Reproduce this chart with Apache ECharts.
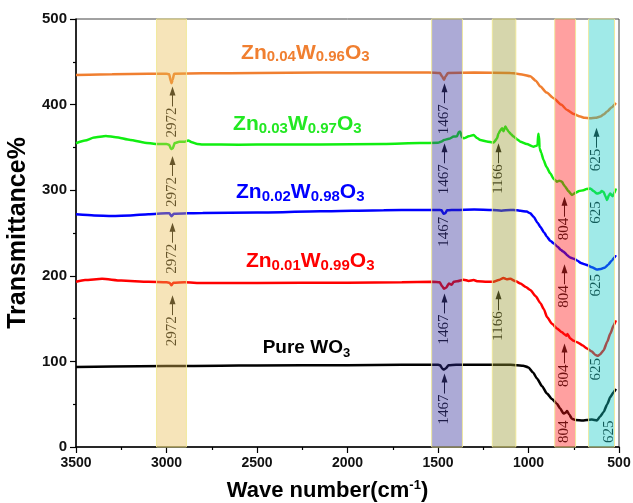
<!DOCTYPE html>
<html>
<head>
<meta charset="utf-8">
<script src="https://cdn.jsdelivr.net/npm/echarts@6/dist/echarts.min.js"></script>
<style>
  html, body { margin: 0; padding: 0; background: #fff; }
  #chart { width: 633px; height: 503px; }
</style>
</head>
<body>
<div id="chart"></div>
<script>
// FTIR spectra: [wavenumber (cm-1), transmittance %] (curves offset vertically)
const pureWO3 = [
  [3500, 93.5], [3300, 94], [3000, 94.5], [2700, 95], [2500, 95.3], [2000, 95.5], [1700, 96],
  [1500, 96], [1488, 95.5], [1476, 91.5], [1467, 90.5], [1456, 92], [1442, 95.5], [1400, 96],
  [1200, 96], [1100, 96], [1064, 95.5], [1030, 95], [1000, 93], [975, 87], [953, 80], [925, 71],
  [898, 62.5], [870, 56], [843, 50.5], [825, 45], [806, 39], [796, 40], [787, 42], [775, 38],
  [760, 33], [740, 31.5], [700, 31], [677, 31.5], [650, 32], [622, 31], [603, 36], [585, 41],
  [565, 50], [548, 58.5], [530, 64], [517, 68]
];
const zn001 = [
  [3500, 193], [3450, 195], [3356, 196.5], [3250, 194.5], [3100, 193], [3000, 192.5], [2984, 192],
  [2972, 189], [2962, 192], [2900, 192.5], [2800, 191.5], [2500, 191.5], [2000, 192], [1700, 192.5],
  [1530, 193], [1490, 192.5], [1478, 188], [1467, 185], [1455, 186], [1440, 191], [1425, 189.5],
  [1413, 193], [1395, 193.5], [1358, 195.5], [1330, 194], [1303, 195], [1280, 193.5], [1230, 193],
  [1193, 193], [1165, 195], [1138, 197.5], [1120, 196], [1101, 196.5], [1070, 193.5], [1045, 191],
  [1015, 187], [990, 183.5], [960, 176], [934, 168], [915, 161], [898, 152], [870, 144],
  [843, 138.5], [815, 134], [800, 131.5], [790, 130], [785, 132], [770, 127], [750, 124],
  [732, 122.5], [700, 118.5], [677, 115], [650, 111.5], [630, 107.5], [618, 106.5], [605, 108],
  [585, 113], [565, 123], [548, 132.5], [530, 142], [517, 148]
];
const zn002 = [
  [3500, 271.8], [3400, 270.5], [3300, 270], [3200, 270.5], [3100, 272], [3000, 273], [2984, 273],
  [2972, 269.5], [2960, 272.5], [2800, 273.5], [2500, 274], [2150, 275.3], [1800, 276.5],
  [1600, 277], [1500, 277], [1480, 276.5], [1470, 272.5], [1460, 273], [1450, 276.5], [1400, 277],
  [1300, 277.5], [1200, 277], [1150, 276], [1100, 277], [1064, 276.5], [1045, 276], [1010, 275],
  [990, 273], [972, 269], [950, 262], [934, 257], [915, 251], [898, 245.6], [880, 241], [861, 238],
  [840, 234], [820, 230], [806, 228], [795, 226], [787, 224], [770, 221.5], [750, 220], [732, 218],
  [710, 215], [690, 213.5], [677, 212.5], [650, 210], [622, 207.5], [600, 208], [576, 209.8],
  [560, 213], [539, 218], [525, 221.5], [517, 224]
];
const zn003 = [
  [3500, 354.8], [3450, 358], [3400, 361.5], [3335, 363.4], [3280, 362], [3200, 358.7],
  [3120, 355.5], [3060, 354], [3000, 354], [2985, 353], [2975, 348], [2965, 349], [2955, 355],
  [2930, 356.5], [2900, 356.5], [2880, 358], [2860, 356], [2830, 354], [2800, 353.5], [2600, 353],
  [2400, 353.5], [2150, 353.5], [1800, 354], [1600, 355], [1500, 355.5], [1480, 357], [1467, 358.7],
  [1440, 360], [1413, 362.6], [1395, 363], [1385, 368], [1377, 368.4], [1368, 362], [1358, 360.7],
  [1330, 363], [1303, 364.6], [1285, 361], [1266, 358.7], [1230, 357], [1193, 355.6], [1175, 360],
  [1165, 366.5], [1155, 370], [1146, 372.4], [1138, 369], [1128, 374.3], [1118, 371], [1110, 368.4],
  [1095, 365], [1082, 362.6], [1060, 359], [1045, 356.7], [1010, 354], [972, 350.9], [955, 352],
  [950, 353], [946, 366], [942, 364], [939, 349], [930, 344], [917, 335.3], [900, 327], [880, 319.7],
  [860, 313], [843, 310], [830, 311], [815, 310], [805, 306], [797, 304], [780, 299], [760, 294.4],
  [740, 297], [720, 299], [696, 300], [680, 301.5], [659, 302], [640, 299], [622, 296], [605, 297],
  [595, 299], [585, 298], [575, 293], [566, 288.5], [556, 294], [548, 296], [535, 293], [525, 297],
  [517, 302]
];
const zn004 = [
  [3500, 434.7], [3300, 435.5], [3100, 436], [3000, 436], [2985, 435.5], [2977, 428], [2972, 425],
  [2966, 429], [2958, 436], [2800, 436.5], [2500, 437], [2150, 437.4], [1800, 437.4], [1550, 437.4],
  [1490, 437], [1478, 433], [1467, 429], [1458, 433], [1445, 437], [1300, 437.4], [1100, 437],
  [1064, 436], [1030, 435], [990, 433], [960, 428], [934, 421], [900, 414], [861, 407.5], [820, 400],
  [787, 393.8], [750, 389], [714, 386], [690, 384.5], [659, 384], [630, 384.5], [603, 386],
  [585, 388.5], [566, 391.8], [540, 397], [517, 402]
];

const spectra = [pureWO3, zn001, zn002, zn003, zn004];
const seriesNames = ['Pure WO3', 'Zn0.01W0.99O3', 'Zn0.02W0.98O3', 'Zn0.03W0.97O3', 'Zn0.04W0.96O3'];
const lineColors = ['#000000', '#ff0000', '#0000ff', '#11ee11', '#f07f30'];

// Curve name labels: centre [wavenumber, %] and rich-text content
const nameLabelPos = [[2227, 115.5], [2206, 217], [2261, 298], [2277, 377], [2233, 460.5]];
const nameLabelText = [
  '{m|Pure WO}{s|3}',
  '{m|Zn}{s|0.01}{m|W}{s|0.99}{m|O}{s|3}',
  '{m|Zn}{s|0.02}{m|W}{s|0.98}{m|O}{s|3}',
  '{m|Zn}{s|0.03}{m|W}{s|0.97}{m|O}{s|3}',
  '{m|Zn}{s|0.04}{m|W}{s|0.96}{m|O}{s|3}'
];

// Shaded absorption regions [from, to] in cm-1
const bandRanges = [[3055, 2890], [1535, 1365], [1200, 1070], [855, 740], [668, 525]];
const bandColors = [
  'rgba(232,187,80,0.4)', 'rgba(48,42,152,0.4)', 'rgba(152,152,48,0.4)',
  'rgba(255,17,17,0.4)', 'rgba(17,202,197,0.4)'
];

// Peak tags with arrow: [wavenumber, arrow tip %, tag]
const arrowTags = [
  [2972, 421.2, '2972'], [2972, 340, '2972'], [2972, 262, '2972'], [2972, 177.4, '2972'],
  [1467, 425, '1467'], [1467, 354.8, '1467'], [1467, 179.4, '1467'], [1467, 85.8, '1467'],
  [1166, 354.8, '1166'], [1166, 183, '1166'],
  [804, 292.4, '804'], [804, 213.5, '804'], [804, 121, '804'],
  [625, 373, '625']
];
// Peak tags without arrow: [wavenumber, top of text %, tag]
const plainTags = [
  [1467, 269, '1467'], [804, 31, '804'],
  [625, 287, '625'], [625, 202, '625'], [625, 104, '625'], [555, 31, '625']
];

const axisFont = 'Liberation Sans, Arial, sans-serif';
const tagFont = '15px "Liberation Serif", "Times New Roman", serif';

const chart = echarts.init(document.getElementById('chart'), null, { renderer: 'canvas' });

const lineSeries = spectra.map((d, i) => ({
  name: seriesNames[i],
  type: 'line',
  data: d,
  showSymbol: false,
  smooth: 0.2,
  smoothMonotone: 'x',
  z: 2,
  lineStyle: { color: lineColors[i], width: 2.5 },
  itemStyle: { color: lineColors[i] }
}));

const tagSeries = {
  type: 'custom',
  z: 3,
  silent: true,
  data: arrowTags.map(t => [t[0], t[1]]),
  renderItem: function (params, api) {
    const p = api.coord([api.value(0), api.value(1)]);
    const x = Math.round(p[0]) + 0.5, y = p[1];
    return {
      type: 'group',
      children: [
        { type: 'polygon', shape: { points: [[x, y], [x - 3, y + 9], [x + 3, y + 9]] }, style: { fill: '#111' } },
        { type: 'line', shape: { x1: x, y1: y + 8, x2: x, y2: y + 20 }, style: { stroke: '#111', lineWidth: 1 } },
        { type: 'text', x: x, y: y + 21, rotation: Math.PI / 2,
          style: { text: arrowTags[params.dataIndex][2], font: tagFont, fill: '#111', align: 'right', verticalAlign: 'middle' } }
      ]
    };
  }
};

const plainTagSeries = {
  type: 'custom',
  z: 3,
  silent: true,
  data: plainTags.map(t => [t[0], t[1]]),
  renderItem: function (params, api) {
    const p = api.coord([api.value(0), api.value(1)]);
    return {
      type: 'text', x: Math.round(p[0]) + 0.5, y: p[1], rotation: Math.PI / 2,
      style: { text: plainTags[params.dataIndex][2], font: tagFont, fill: '#111', align: 'right', verticalAlign: 'middle' }
    };
  }
};

const bandSeries = {
  type: 'custom',
  z: 4,
  silent: true,
  data: bandRanges.map(r => [r[0], r[1]]),
  renderItem: function (params, api) {
    const a = api.coord([api.value(0), 500]);
    const b = api.coord([api.value(1), 0]);
    return {
      type: 'rect',
      shape: { x: Math.min(a[0], b[0]), y: a[1], width: Math.abs(b[0] - a[0]), height: b[1] - a[1] },
      style: { fill: bandColors[params.dataIndex], stroke: 'rgba(240,232,150,0.9)', lineWidth: 1 }
    };
  }
};

const nameSeries = {
  type: 'custom',
  z: 5,
  silent: true,
  data: nameLabelPos,
  renderItem: function (params, api) {
    const i = params.dataIndex;
    const p = api.coord([api.value(0), api.value(1)]);
    const c = lineColors[i] === '#11ee11' ? '#22e822' : lineColors[i];
    const big = i === 0 ? 19 : 21;
    const small = i === 0 ? 13 : 15;
    return {
      type: 'text', x: p[0], y: p[1],
      style: {
        text: nameLabelText[i], align: 'center', verticalAlign: 'middle',
        rich: {
          m: { fontSize: big, fontWeight: 'bold', fontFamily: axisFont, fill: c, lineHeight: 24 },
          s: { fontSize: small, fontWeight: 'bold', fontFamily: axisFont, fill: c, lineHeight: 7, verticalAlign: 'bottom' }
        }
      }
    };
  }
};

chart.setOption({
  animation: false,
  backgroundColor: '#fff',
  grid: {
    left: 76, right: 14, top: 19, bottom: 56, outerBoundsMode: 'none',
    show: true, borderColor: '#444', borderWidth: 1
  },
  xAxis: {
    type: 'value', min: 500, max: 3500, interval: 500, inverse: true,
    name: '{a|Wave number(cm}{s|-1}{a|)}',
    nameLocation: 'middle', nameGap: 32,
    nameTextStyle: {
      padding: [0, 40, 0, 0],
      rich: {
        a: { fontSize: 22, fontWeight: 'bold', fontFamily: axisFont, color: '#000', lineHeight: 24 },
        s: { fontSize: 13, fontWeight: 'bold', fontFamily: axisFont, color: '#000', lineHeight: 10, verticalAlign: 'top' }
      }
    },
    axisLine: { show: true, lineStyle: { color: '#000', width: 1.5 } },
    axisTick: { show: true, inside: false, length: 6, lineStyle: { color: '#000', width: 1.2 } },
    minorTick: { show: true, splitNumber: 2, length: 3, lineStyle: { color: '#000', width: 1.2 } },
    splitLine: { show: false },
    axisLabel: {
      color: '#111', fontSize: 14, fontWeight: 'bold', fontFamily: axisFont, margin: 9,
      formatter: v => String(v)
    }
  },
  yAxis: {
    type: 'value', min: 0, max: 500, interval: 100,
    name: 'Transmittance%',
    nameLocation: 'middle', nameGap: 31,
    nameTextStyle: { fontSize: 25, fontWeight: 'bold', fontFamily: axisFont, color: '#000' },
    axisLine: { show: true, lineStyle: { color: '#000', width: 1.5 } },
    axisTick: { show: true, inside: false, length: 6, lineStyle: { color: '#000', width: 1.2 } },
    minorTick: { show: true, splitNumber: 2, length: 3, lineStyle: { color: '#000', width: 1.2 } },
    splitLine: { show: false },
    axisLabel: { color: '#111', fontSize: 15, fontWeight: 'bold', fontFamily: axisFont, margin: 9 }
  },
  series: [...lineSeries, tagSeries, plainTagSeries, bandSeries, nameSeries]
});
</script>
</body>
</html>
